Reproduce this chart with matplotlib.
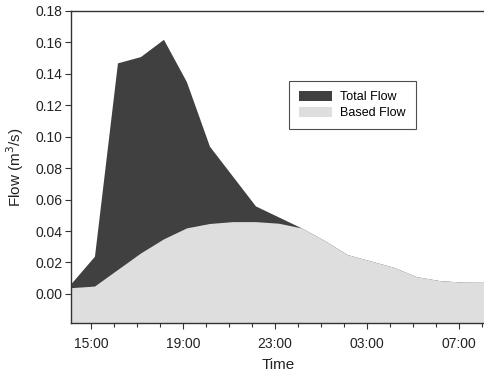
import matplotlib
matplotlib.use("Agg")
import matplotlib.pyplot as plt
from matplotlib.ticker import MultipleLocator, FixedLocator, FixedFormatter

plt.rcParams['font.family'] = ['Liberation Sans', 'DejaVu Sans']

# hours since midnight of day 1 (data sampled hourly, ~14:09 to 08:09)
times = [14.15 + k for k in range(19)]
total_flow = [0.007, 0.024, 0.147, 0.151, 0.162, 0.135, 0.094, 0.075, 0.056, 0.049,
              0.042, 0.034, 0.025, 0.021, 0.017, 0.011, 0.0085, 0.0075, 0.0074]
based_flow = [0.004, 0.005, 0.0155, 0.026, 0.035, 0.042, 0.0448, 0.046, 0.046, 0.045,
              0.042, 0.034, 0.025, 0.021, 0.017, 0.011, 0.0085, 0.0075, 0.0074]
tick_hours = [15, 19, 23, 27, 31]
tick_labels = ["15:00", "19:00", "23:00", "03:00", "07:00"]
y_ticks = [0.0, 0.02, 0.04, 0.06, 0.08, 0.10, 0.12, 0.14, 0.16, 0.18]

fig = plt.figure(figsize=(4.85, 3.73), dpi=100)
ax = fig.add_axes([71/485, 50/373, 1 - 71/485, 312/373])

ymin = -0.0185
ax.fill_between(times, ymin, total_flow, color='#404040', lw=0, label='Total Flow')
ax.fill_between(times, ymin, based_flow, color='#dedede', lw=0, label='Based Flow')

ax.set_xlim(14.13, 32.13)
ax.set_ylim(ymin, 0.18)
ax.xaxis.set_major_locator(FixedLocator(tick_hours))
ax.xaxis.set_major_formatter(FixedFormatter(tick_labels))
ax.xaxis.set_minor_locator(MultipleLocator(1))
ax.set_yticks(y_ticks)
ax.set_yticklabels([f"{v:.2f}" for v in y_ticks])
ax.tick_params(axis='both', which='major', labelsize=10, length=4, width=0.8, color='#333333', labelcolor='#222222')
ax.tick_params(axis='x', which='major', pad=6)
ax.tick_params(axis='y', which='major', pad=2)
ax.tick_params(axis='x', which='minor', length=3, width=0.8, color='#333333')
ax.spines['right'].set_visible(False)
for s in ['left', 'bottom', 'top']:
    ax.spines[s].set_color('#333333')
    ax.spines[s].set_linewidth(1.0)

ax.set_xlabel('Time', fontsize=11, color='#222222', labelpad=5)
ax.set_ylabel('Flow (m$^3$/s)', fontsize=11, color='#222222', labelpad=7)

leg = ax.legend(loc='upper left', bbox_to_anchor=((283-71)/414, (323-75)/312),
                fontsize=9, frameon=True, fancybox=False, edgecolor='#222222',
                handlelength=2.6, handleheight=0.8, borderpad=0.8, labelspacing=0.3,
                handletextpad=0.7)
leg.get_frame().set_linewidth(0.8)

fig.savefig('out.png', dpi=100)
